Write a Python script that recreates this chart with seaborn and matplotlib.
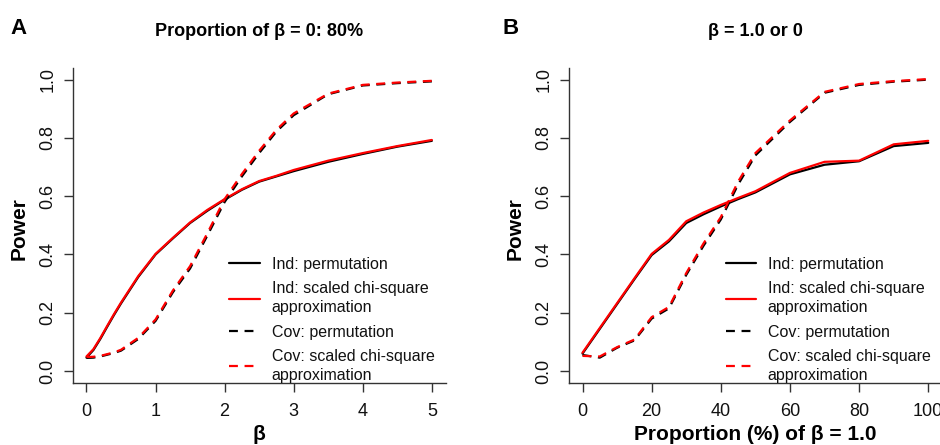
import numpy as np
import pandas as pd
import matplotlib
matplotlib.use("Agg")
import matplotlib.pyplot as plt
import seaborn as sns

# Panel A: power vs beta (80% of beta = 0)
beta = [0, 0.1, 0.2, 0.3, 0.4, 0.5, 0.75, 1, 1.25, 1.5, 1.75, 2, 2.25, 2.5, 2.75, 3, 3.5, 4, 4.5, 5]
a_ind_perm = [0.046, 0.072, 0.110, 0.152, 0.193, 0.232, 0.323, 0.400, 0.455, 0.508, 0.550, 0.588,
              0.622, 0.650, 0.668, 0.686, 0.718, 0.745, 0.770, 0.790]
a_ind_chisq = [0.050, 0.075, 0.113, 0.155, 0.196, 0.235, 0.326, 0.402, 0.457, 0.510, 0.553, 0.590,
               0.624, 0.652, 0.670, 0.690, 0.722, 0.748, 0.772, 0.793]
a_cov_perm = [0.045, 0.046, 0.050, 0.056, 0.062, 0.070, 0.110, 0.172, 0.270, 0.352, 0.465, 0.580,
              0.668, 0.748, 0.822, 0.878, 0.950, 0.980, 0.988, 0.994]
a_cov_chisq = [0.048, 0.049, 0.052, 0.058, 0.064, 0.073, 0.114, 0.177, 0.276, 0.360, 0.473, 0.590,
               0.676, 0.756, 0.828, 0.884, 0.952, 0.982, 0.990, 0.996]

# Panel B: power vs proportion (%) of beta = 1.0
prop = [0, 5, 10, 15, 20, 25, 30, 35, 40, 45, 50, 60, 70, 80, 90, 100]
b_ind_perm = [0.060, 0.145, 0.230, 0.315, 0.398, 0.445, 0.508, 0.538, 0.565, 0.590, 0.613,
              0.675, 0.708, 0.720, 0.772, 0.783]
b_ind_chisq = [0.063, 0.148, 0.233, 0.318, 0.402, 0.450, 0.514, 0.544, 0.570, 0.594, 0.617,
               0.680, 0.718, 0.722, 0.778, 0.790]
b_cov_perm = [0.055, 0.046, 0.080, 0.105, 0.180, 0.215, 0.330, 0.430, 0.520, 0.640, 0.740,
              0.855, 0.955, 0.982, 0.993, 1.000]
b_cov_chisq = [0.052, 0.050, 0.082, 0.108, 0.185, 0.220, 0.336, 0.438, 0.528, 0.650, 0.748,
               0.860, 0.958, 0.985, 0.995, 1.002]

labels = ["Ind: permutation", "Ind: scaled chi-square\napproximation",
          "Cov: permutation", "Cov: scaled chi-square\napproximation"]
colors = ["black", "red", "black", "red"]
dash = (0, (4, 3))
styles = ["-", "-", dash, dash]

sns.set_style("ticks")
plt.rcParams["font.family"] = ["Liberation Sans", "DejaVu Sans"]
plt.rcParams["text.color"] = "black"

fig = plt.figure(figsize=(9.4, 4.45), dpi=100)
ax_a = fig.add_axes([0.0773, 0.14, 0.3968, 0.7072])
ax_b = fig.add_axes([0.605, 0.14, 0.3972, 0.7072])

panels = [
    (ax_a, beta, [a_ind_perm, a_ind_chisq, a_cov_perm, a_cov_chisq], (-0.2, 5.2), range(0, 6),
     "β", "Proportion of β = 0: 80%"),
    (ax_b, prop, [b_ind_perm, b_ind_chisq, b_cov_perm, b_cov_chisq], (-4, 104), range(0, 101, 20),
     "Proportion (%) of β = 1.0", "β = 1.0 or 0"),
]

for ax, x, series, xlim, xt, xlab, title in panels:
    for vals, lab, c, ls in zip(series, labels, colors, styles):
        sns.lineplot(x=x, y=vals, ax=ax, color=c, linestyle=ls, linewidth=1.6, label=lab)
    ax.set_xlim(*xlim)
    ax.set_ylim(-0.04, 1.04)
    ax.set_xticks(list(xt))
    ax.set_yticks([0, 0.2, 0.4, 0.6, 0.8, 1.0])
    ax.set_yticklabels(["0.0", "0.2", "0.4", "0.6", "0.8", "1.0"], rotation=90, va="center")
    ax.tick_params(axis="both", labelsize=13, length=6.5, width=1, color="#333333",
                   labelcolor="#111111")
    ax.tick_params(axis="x", pad=8)
    ax.tick_params(axis="y", pad=5)
    for s in ["top", "right"]:
        ax.spines[s].set_visible(False)
    for s in ["left", "bottom"]:
        ax.spines[s].set_linewidth(1)
        ax.spines[s].set_color("#333333")
    ax.set_xlabel(xlab, fontsize=15, fontweight="bold", color="black")
    ax.set_ylabel("Power", fontsize=15, fontweight="bold", color="black")
    ax.xaxis.set_label_coords(0.5, -0.135)
    ax.yaxis.set_label_coords(-0.118, 0.49)
    leg = ax.legend(loc="upper left", bbox_to_anchor=(0.42, 0.40), frameon=False, fontsize=11.5,
                    handlelength=1.9, handletextpad=0.75, borderpad=0, borderaxespad=0,
                    labelspacing=0.6)
    for t in leg.get_texts():
        t.set_linespacing(1.3)
        t.set_color("#111111")
    ax.set_title(title, fontsize=13, fontweight="bold", pad=23, color="black")

fig.text(0.011, 0.935, "A", fontsize=16, fontweight="bold", va="center")
fig.text(0.535, 0.935, "B", fontsize=16, fontweight="bold", va="center")

fig.savefig("out.png", dpi=100)
